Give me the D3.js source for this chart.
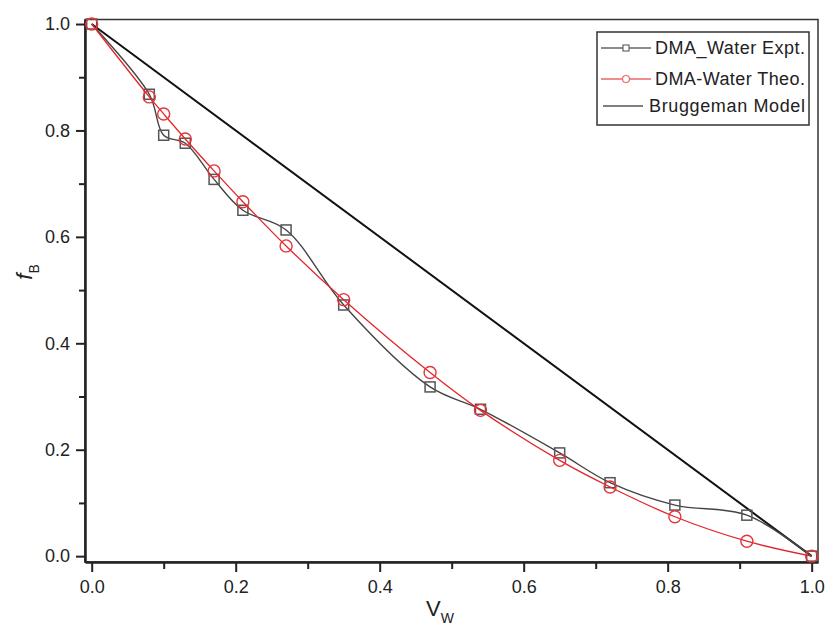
<!DOCTYPE html>
<html>
<head>
<meta charset="utf-8">
<script src="https://cdn.jsdelivr.net/npm/d3@7"></script>
<style>
  body { margin: 0; background: #fff; }
  svg text { font-family: "Liberation Sans", Arial, sans-serif; fill: #222; }
</style>
</head>
<body>
<div id="chart"></div>
<script>
// data
var vw = [0, 0.08, 0.10, 0.13, 0.17, 0.21, 0.27, 0.35, 0.47, 0.54, 0.65, 0.72, 0.81, 0.91, 1.0]
var fbExpt = [1.0, 0.868, 0.791, 0.776, 0.708, 0.650, 0.613, 0.472, 0.318, 0.276, 0.194, 0.138, 0.096, 0.077, 0.0]
var fbTheo = [1.0, 0.863, 0.831, 0.784, 0.724, 0.666, 0.583, 0.482, 0.345, 0.274, 0.180, 0.130, 0.074, 0.028, 0.0]
var brugX = [0, 1]
var brugY = [1, 0]
var majorTicks = [0, 0.2, 0.4, 0.6, 0.8, 1.0]
var minorTicks = [0.1, 0.3, 0.5, 0.7, 0.9]
var legendNames = ["DMA_Water Expt.", "DMA-Water Theo.", "Bruggeman Model"]

var W = 825, H = 626
var pLeft = 85, pRight = 818, pTop = 19.5, pBottom = 562

var svg = d3.select("#chart").append("svg")
    .attr("width", W).attr("height", H)

var x = d3.scaleLinear().domain([-0.0093, 1.0088]).range([pLeft, pRight])
var y = d3.scaleLinear().domain([-0.011, 1.0085]).range([pBottom, pTop])

// frame (top/right)
svg.append("rect")
  .attr("x", pLeft).attr("y", pTop)
  .attr("width", pRight - pLeft).attr("height", pBottom - pTop)
  .attr("fill", "none").attr("stroke", "#333").attr("stroke-width", 1.5)

// minor ticks
svg.append("g")
  .attr("transform", "translate(0," + pBottom + ")")
  .call(d3.axisBottom(x).tickValues(minorTicks).tickSize(7).tickFormat(""))
  .call(g => g.select(".domain").remove())
  .selectAll("line").attr("stroke", "#222").attr("stroke-width", 2)
svg.append("g")
  .attr("transform", "translate(" + pLeft + ",0)")
  .call(d3.axisLeft(y).tickValues(minorTicks).tickSize(6).tickFormat(""))
  .call(g => g.select(".domain").remove())
  .selectAll("line").attr("stroke", "#222").attr("stroke-width", 2)

// major axes
var xAxis = svg.append("g")
  .attr("transform", "translate(0," + pBottom + ")")
  .call(d3.axisBottom(x).tickValues(majorTicks).tickSize(10).tickSizeOuter(0).tickPadding(8).tickFormat(d3.format(".1f")))
xAxis.select(".domain").attr("stroke", "#222").attr("stroke-width", 2.5)
xAxis.selectAll("line").attr("stroke", "#222").attr("stroke-width", 2)
xAxis.selectAll("text").attr("font-size", 18)

var yAxis = svg.append("g")
  .attr("transform", "translate(" + pLeft + ",0)")
  .call(d3.axisLeft(y).tickValues(majorTicks).tickSize(9).tickSizeOuter(0).tickPadding(6).tickFormat(d3.format(".1f")))
yAxis.select(".domain").attr("stroke", "#222").attr("stroke-width", 2.5)
yAxis.selectAll("line").attr("stroke", "#222").attr("stroke-width", 2)
yAxis.selectAll("text").attr("font-size", 18)

// axis titles
var xt = svg.append("text")
  .attr("x", 440).attr("y", 616)
  .attr("text-anchor", "middle").attr("font-size", 22)
xt.append("tspan").text("V")
xt.append("tspan").attr("dy", 7).attr("font-size", 14).text("W")

var yt = svg.append("text")
  .attr("transform", "translate(32,272) rotate(-90)")
  .attr("text-anchor", "middle").attr("font-size", 22)
yt.append("tspan").attr("font-style", "italic").text("f")
yt.append("tspan").attr("dy", 7).attr("font-size", 14).text("B")

// Bruggeman line
var straight = d3.line().x(function(d, i) { return x(brugX[i]) }).y(function(d) { return y(d) })
svg.append("path")
  .datum(brugY)
  .attr("d", straight)
  .attr("fill", "none").attr("stroke", "#111").attr("stroke-width", 2)

var smooth = d3.line()
  .x(function(d, i) { return x(vw[i]) })
  .y(function(d) { return y(d) })
  .curve(d3.curveCatmullRom.alpha(0.5))

// Expt
svg.append("path")
  .datum(fbExpt)
  .attr("d", smooth)
  .attr("fill", "none").attr("stroke", "#444").attr("stroke-width", 1.4)
svg.selectAll(".sq")
  .data(fbExpt)
  .enter().append("rect")
    .attr("x", function(d, i) { return x(vw[i]) - 5 })
    .attr("y", function(d) { return y(d) - 5 })
    .attr("width", 10).attr("height", 10)
    .attr("fill", "none").attr("stroke", "#555").attr("stroke-width", 1.5)

// Theo
svg.append("path")
  .datum(fbTheo)
  .attr("d", smooth)
  .attr("fill", "none").attr("stroke", "#e3252b").attr("stroke-width", 1.3)
svg.selectAll(".circ")
  .data(fbTheo)
  .enter().append("circle")
    .attr("cx", function(d, i) { return x(vw[i]) })
    .attr("cy", function(d) { return y(d) })
    .attr("r", 6)
    .attr("fill", "none").attr("stroke", "#e3353b").attr("stroke-width", 1.4)

// legend
var lg = svg.append("g")
lg.append("rect")
  .attr("x", 597).attr("y", 32).attr("width", 212).attr("height", 93)
  .attr("fill", "#fff").attr("stroke", "#333").attr("stroke-width", 1.5)
var rowY = [48, 79, 106]
var rowCol = ["#666", "#e66", "#555"]
legendNames.forEach(function(name, i) {
  var x1 = i == 2 ? 603 : 601, x2 = i == 2 ? 643 : 651
  lg.append("line")
    .attr("x1", x1).attr("x2", x2).attr("y1", rowY[i]).attr("y2", rowY[i])
    .attr("stroke", rowCol[i]).attr("stroke-width", 1.3)
  if (i == 0) {
    lg.append("rect").attr("x", 623).attr("y", rowY[i] - 3).attr("width", 6).attr("height", 6)
      .attr("fill", "#fff").attr("stroke", "#666").attr("stroke-width", 1.2)
  } else if (i == 1) {
    lg.append("circle").attr("cx", 626).attr("cy", rowY[i]).attr("r", 3.5)
      .attr("fill", "#fff").attr("stroke", "#e66").attr("stroke-width", 1.2)
  }
  lg.append("text")
    .attr("x", i == 2 ? 649 : 655).attr("y", rowY[i] + 6)
    .attr("font-size", 18)
    .attr("textLength", i == 2 ? 156 : 150)
    .text(name)
})
</script>
</body>
</html>
